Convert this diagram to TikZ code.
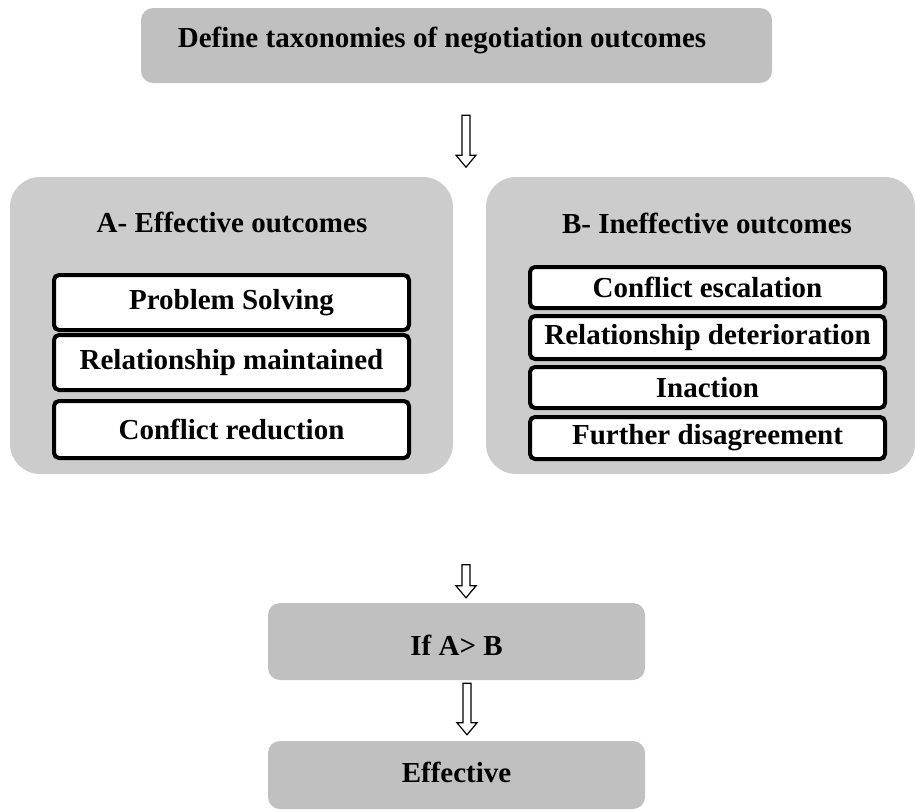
\documentclass[tikz,border=0pt]{standalone}
\usepackage{fontspec}
\setmainfont{Liberation Serif}
\usetikzlibrary{calc}

\definecolor{panelgray}{RGB}{204,204,204}
\definecolor{stepgray}{RGB}{192,192,192}

\tikzset{
  every node/.style={font=\fontsize{29}{34}\selectfont\bfseries, inner sep=0pt},
  stepbox/.style={fill=stepgray, rounded corners=12pt},
  panel/.style={fill=panelgray, rounded corners=30pt},
  itembox/.style={draw=black, fill=white, line width=4pt, rounded corners=5pt,
                  minimum width=355pt},
  arrowline/.style={draw=black, fill=white, line width=1.2pt, line join=miter},
}

% hollow block arrow pointing down from #1 to tip #2
\newcommand{\downblock}[2]{%
  \path[arrowline] let \p1=(#1), \p2=(#2) in
    (\x1-4pt,\y1) -- (\x1+4pt,\y1) -- (\x1+4pt,\y2+12pt) -- (\x1+10pt,\y2+12pt)
    -- (\x1,\y2) -- (\x1-10pt,\y2+12pt) -- (\x1-4pt,\y2+12pt) -- cycle;}

\begin{document}
\begin{tikzpicture}[x=1pt, y=-1pt]
  \useasboundingbox (0,0) rectangle (915,811);

  % top step
  \node[stepbox, minimum width=631pt, minimum height=75pt] (top) at (456.5,45.5) {};
  \node (toptext) at (442,40) {Define taxonomies of negotiation outcomes};

  % panel A
  \node[panel, minimum width=443pt, minimum height=297pt] (boxA) at (231.5,325.5) {};
  \node (titleA) at (232,222) {A- Effective outcomes};
  \node[itembox, minimum height=55pt] (a1) at (231.5,302.5) {Problem Solving};
  \node[itembox, minimum height=55pt] (a2) at (231.5,362.5) {Relationship maintained};
  \node[itembox, minimum height=57pt] (a3) at (231.5,429.5) {Conflict reduction};

  % panel B
  \node[panel, minimum width=429pt, minimum height=297pt] (boxB) at (700.5,325.5) {};
  \node (titleB) at (707,223) {B- Ineffective outcomes};
  \node[itembox, minimum height=41pt] (b1) at (707.5,287.5) {Conflict escalation};
  \node[itembox, minimum height=43pt] (b2) at (707.5,337.5) {Relationship deterioration};
  \node[itembox, minimum height=41pt] (b3) at (707.5,387.5) {Inaction};
  \node[itembox, minimum height=42pt] (b4) at (707.5,438) {Further disagreement};

  % condition and result
  \node[stepbox, minimum width=377pt, minimum height=77pt] (cond) at (456.5,641.5) {};
  \node (condtext) at (456.5,645) {If A> B};
  \node[stepbox, minimum width=377pt, minimum height=68pt] (result) at (456.5,775) {};
  \node (resulttext) at (456.5,772) {Effective};

  % connecting block arrows
  \coordinate (s1) at ($(top.south)+(9.5,32)$);
  \coordinate (t1) at ($(top.south)+(9.5,84)$);
  \downblock{s1}{t1}
  \coordinate (s2) at ($(cond.north)+(9.5,-38)$);
  \coordinate (t2) at ($(cond.north)+(9.5,-5)$);
  \downblock{s2}{t2}
  \coordinate (s3) at ($(cond.south)+(10.5,3)$);
  \coordinate (t3) at ($(result.north)+(10.5,-6)$);
  \downblock{s3}{t3}
\end{tikzpicture}
\end{document}
